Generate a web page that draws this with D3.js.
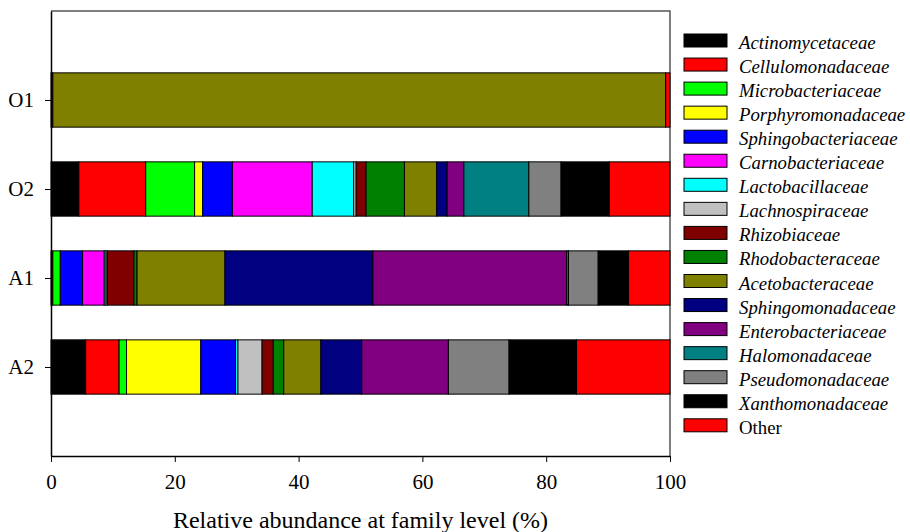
<!DOCTYPE html>
<html>
<head>
<meta charset="utf-8">
<script src="https://cdn.jsdelivr.net/npm/d3@7"></script>
<style>
  body { margin: 0; background: #fff; }
</style>
</head>
<body>
<div id="wrapper"></div>
<script>
const samples = ["O1", "O2", "A1", "A2"];
const families = [
  "Actinomycetaceae", "Cellulomonadaceae", "Microbacteriaceae", "Porphyromonadaceae",
  "Sphingobacteriaceae", "Carnobacteriaceae", "Lactobacillaceae", "Lachnospiraceae",
  "Rhizobiaceae", "Rhodobacteraceae", "Acetobacteraceae", "Sphingomonadaceae",
  "Enterobacteriaceae", "Halomonadaceae", "Pseudomonadaceae", "Xanthomonadaceae", "Other",
];
// percent per family, same order as families
const valuesO1 = [0, 0, 0, 0, 0, 0, 0, 0, 0.3, 0, 99.0, 0, 0, 0, 0, 0, 0.7];
const valuesO2 = [4.5, 10.8, 7.9, 1.3, 4.8, 12.9, 6.7, 0.4, 1.6, 6.2, 5.2, 1.7, 2.7, 10.5, 5.2, 7.8, 9.8];
const valuesA1 = [0, 0.3, 1.2, 0, 3.6, 3.5, 0.3, 0.2, 4.3, 0.5, 14.2, 23.9, 31.3, 0.3, 4.8, 4.9, 6.7];
const valuesA2 = [5.6, 5.4, 1.2, 12.0, 5.6, 0, 0.4, 3.9, 1.8, 1.7, 6.0, 6.6, 14.0, 0, 9.8, 10.9, 15.1];
const xTicks = [0, 20, 40, 60, 80, 100];

const colors = [
  "#000000", "#ff0000", "#00ff00", "#ffff00", "#0000ff", "#ff00ff", "#00ffff", "#c0c0c0",
  "#800000", "#008000", "#808000", "#000080", "#800080", "#008080", "#808080", "#000000", "#ff0000",
];

const serif = "'Liberation Serif', 'Times New Roman', 'DejaVu Serif', serif";

const drawChart = () => {
  const dimensions = {
    width: 910,
    height: 532,
    margin: { top: 11, right: 240, bottom: 76, left: 51 },
  };
  dimensions.boundedWidth = dimensions.width - dimensions.margin.left - dimensions.margin.right;
  dimensions.boundedHeight = dimensions.height - dimensions.margin.top - dimensions.margin.bottom;

  const rows = [valuesO1, valuesO2, valuesA1, valuesA2].map((vals, i) => {
    const row = { sample: samples[i] };
    families.forEach((f, j) => (row[f] = vals[j]));
    return row;
  });
  const stacked = d3.stack().keys(families)(rows);

  const wrapper = d3
    .select("#wrapper")
    .append("svg")
    .attr("width", dimensions.width)
    .attr("height", dimensions.height);

  const bounds = wrapper
    .append("g")
    .attr("transform", `translate(${dimensions.margin.left},${dimensions.margin.top})`);

  const xScale = d3.scaleLinear().domain([0, 100]).range([0, dimensions.boundedWidth]);
  const yScale = d3.scalePoint().domain(samples).range([0, dimensions.boundedHeight]).padding(1);
  const barHeight = yScale.step() * 0.61;
  const colorScale = d3.scaleOrdinal().domain(families).range(colors);

  // frame top/right
  bounds
    .append("path")
    .attr("d", `M0,0H${dimensions.boundedWidth}V${dimensions.boundedHeight}`)
    .attr("fill", "none")
    .attr("stroke", "#555")
    .attr("stroke-width", 1.5);

  bounds
    .selectAll(".layer")
    .data(stacked)
    .join("g")
    .attr("class", "layer")
    .attr("fill", (d) => colorScale(d.key))
    .selectAll("rect")
    .data((d) => d.filter((s) => s[1] - s[0] > 0))
    .join("rect")
    .attr("x", (d) => xScale(d[0]))
    .attr("width", (d) => xScale(d[1]) - xScale(d[0]))
    .attr("y", (d) => yScale(d.data.sample) - barHeight / 2)
    .attr("height", barHeight)
    .attr("stroke", "#000")
    .attr("stroke-width", 1);

  const xAxisGenerator = d3.axisBottom(xScale).tickValues(xTicks).tickSizeInner(6).tickSizeOuter(0).tickPadding(12);
  const xAxis = bounds
    .append("g")
    .attr("transform", `translate(0,${dimensions.boundedHeight})`)
    .call(xAxisGenerator);
  xAxis.select(".domain").attr("stroke-width", 1.5);
  xAxis.selectAll("text").style("font-family", serif).style("font-size", "21px").attr("fill", "#000");

  const yAxisGenerator = d3.axisLeft(yScale).tickSizeInner(6).tickSizeOuter(0).tickPadding(11);
  const yAxis = bounds.append("g").call(yAxisGenerator);
  yAxis.select(".domain").attr("stroke-width", 1.5);
  yAxis.selectAll("text").style("font-family", serif).style("font-size", "21px").attr("fill", "#000");

  bounds
    .append("text")
    .attr("x", dimensions.boundedWidth / 2)
    .attr("y", dimensions.boundedHeight + 72)
    .attr("fill", "black")
    .style("font-family", serif)
    .style("font-size", "24px")
    .style("text-anchor", "middle")
    .text("Relative abundance at family level (%)");

  // legend
  const legend = wrapper
    .append("g")
    .attr("transform", "translate(684,34)");
  const legendStep = 24.05;
  const items = legend
    .selectAll("g")
    .data(families)
    .join("g")
    .attr("transform", (d, i) => `translate(0,${i * legendStep})`);
  items
    .append("rect")
    .attr("width", 43)
    .attr("height", 13)
    .attr("fill", (d) => colorScale(d))
    .attr("stroke", "#000")
    .attr("stroke-width", 1);
  items
    .append("text")
    .attr("x", 55)
    .attr("y", 15)
    .attr("fill", "black")
    .style("font-family", serif)
    .style("font-size", "18.8px")
    .style("font-style", (d) => (d === "Other" ? "normal" : "italic"))
    .text((d) => d);
};

drawChart();
</script>
</body>
</html>
